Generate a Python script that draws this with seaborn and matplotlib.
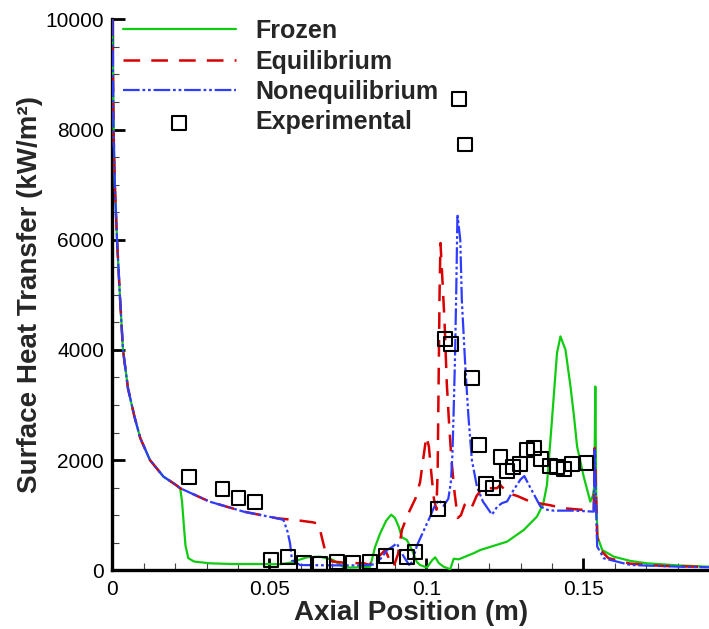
import matplotlib
matplotlib.use("Agg")
import matplotlib.pyplot as plt
from matplotlib.ticker import MultipleLocator, FixedLocator, FuncFormatter
import seaborn as sns
import pandas as pd

# ---- data -------------------------------------------------------------
frozen_x = [0.0000, 0.0002, 0.0004, 0.0008, 0.0015, 0.0024, 0.0034, 0.0050, 0.0070, 0.0089,
            0.0120, 0.0163, 0.0200, 0.0216, 0.0222, 0.0228, 0.0233, 0.0242, 0.0260, 0.0310,
            0.0386, 0.0470, 0.0534, 0.0566, 0.0600, 0.0620, 0.0662, 0.0704, 0.0736, 0.0760,
            0.0800, 0.0821, 0.0837, 0.0853, 0.0872, 0.0888, 0.0900, 0.0912, 0.0922, 0.0938,
            0.0954, 0.0970, 0.0980, 0.1002, 0.1018, 0.1028, 0.1040, 0.1055, 0.1076, 0.1087,
            0.1103, 0.1150, 0.1172, 0.1257, 0.1310, 0.1352, 0.1372, 0.1384, 0.1400, 0.1416,
            0.1427, 0.1443, 0.1459, 0.1470, 0.1480, 0.1501, 0.1515, 0.1522, 0.1530, 0.1535,
            0.1538, 0.1541, 0.1545, 0.1560, 0.1597, 0.1650, 0.1703, 0.1800, 0.1900]
frozen_y = [10000, 9000, 8000, 7000, 6000, 5000, 4000, 3300, 2800, 2400,
            2000, 1700, 1560, 1490, 1250, 800, 450, 220, 160, 127,
            114, 114, 110, 138, 200, 236, 247, 187, 55, 50,
            60, 65, 429, 672, 900, 1010, 950, 792, 600, 550,
            369, 150, 96, 50, 180, 236, 130, 65, 20, 210,
            200, 309, 369, 520, 732, 974, 1200, 1550, 2731, 3943,
            4245, 4003, 3336, 2800, 2246, 1701, 1400, 1246, 1350, 1519,
            3336, 1300, 610, 369, 247, 170, 127, 90, 65]

equil_x = [0.0000, 0.0002, 0.0004, 0.0008, 0.0015, 0.0024, 0.0034, 0.0050, 0.0070, 0.0089,
           0.0120, 0.0163, 0.0200, 0.0216, 0.0310, 0.0418, 0.0524, 0.0556, 0.0600, 0.0640,
           0.0657, 0.0668, 0.0680, 0.0700, 0.0750, 0.0800, 0.0817, 0.0840, 0.0869, 0.0885,
           0.0896, 0.0910, 0.0922, 0.0940, 0.0965, 0.0980, 0.0991, 0.1000, 0.1008, 0.1016,
           0.1024, 0.1032, 0.1036, 0.1039, 0.1042, 0.1045, 0.1050, 0.1058, 0.1065, 0.1072,
           0.1080, 0.1090, 0.1100, 0.1110, 0.1122, 0.1133, 0.1145, 0.1160, 0.1175, 0.1193,
           0.1225, 0.1235, 0.1260, 0.1289, 0.1331, 0.1395, 0.1437, 0.1501, 0.1533, 0.1536,
           0.1540, 0.1544, 0.1554, 0.1580, 0.1650, 0.1750, 0.1900]
equil_y = [10000, 9000, 8000, 7000, 6000, 5000, 4000, 3300, 2800, 2400,
           2000, 1700, 1560, 1490, 1246, 1065, 945, 927, 900, 870,
           840, 580, 300, 160, 130, 130, 100, 200, 370, 160,
           70, 300, 730, 1000, 1300, 1600, 2064, 2430, 2250, 1750,
           1300, 1100, 1800, 3400, 5000, 5940, 5400, 4500, 3400, 2700,
           2000, 1400, 950, 1000, 1190, 1250, 1150, 1350, 1460, 1490,
           1490, 1550, 1400, 1350, 1246, 1180, 1126, 1096, 1090, 2220,
           1500, 610, 369, 220, 120, 80, 60]

noneq_x = [0.0000, 0.0002, 0.0004, 0.0008, 0.0015, 0.0024, 0.0034, 0.0050, 0.0070, 0.0089,
           0.0120, 0.0163, 0.0200, 0.0216, 0.0310, 0.0418, 0.0524, 0.0545, 0.0558, 0.0566,
           0.0572, 0.0598, 0.0700, 0.0800, 0.0840, 0.0860, 0.0875, 0.0890, 0.0906, 0.0918,
           0.0928, 0.0945, 0.0955, 0.0970, 0.0990, 0.1010, 0.1025, 0.1040, 0.1055, 0.1070,
           0.1078, 0.1083, 0.1087, 0.1091, 0.1095, 0.1099, 0.1104, 0.1108, 0.1113, 0.1124,
           0.1134, 0.1145, 0.1161, 0.1180, 0.1209, 0.1225, 0.1241, 0.1257, 0.1278, 0.1300,
           0.1312, 0.1331, 0.1363, 0.1384, 0.1405, 0.1470, 0.1533, 0.1536, 0.1540, 0.1544,
           0.1565, 0.1650, 0.1809, 0.1900]
noneq_y = [10000, 9000, 8000, 7000, 6000, 5000, 4000, 3300, 2800, 2400,
           2000, 1700, 1560, 1490, 1246, 1065, 945, 914, 700, 490,
           187, 96, 90, 90, 110, 250, 370, 420, 490, 350,
           250, 100, 150, 450, 700, 950, 1150, 1280, 1170, 1300,
           1600, 2100, 2900, 3800, 5000, 6460, 6200, 6000, 4900, 3700,
           2790, 2000, 1520, 1250, 1010, 1150, 1220, 1250, 1460, 1650,
           1710, 1500, 1160, 1100, 1083, 1083, 1065, 2190, 1200, 430,
           218, 96, 65, 55]

exp_x = [0.0245, 0.0351, 0.0402, 0.0453, 0.0506, 0.0559, 0.0611, 0.0662, 0.0715,
         0.0767, 0.0821, 0.0872, 0.0938, 0.0964, 0.1038, 0.1058, 0.1079, 0.1103, 0.1124,
         0.1145, 0.1167, 0.1191, 0.1213, 0.1236, 0.1256, 0.1277, 0.1299, 0.1321, 0.1343,
         0.1365, 0.1395, 0.1416, 0.1437, 0.1464, 0.1510]
exp_y = [1700, 1477, 1319, 1246, 187, 236, 138, 124, 151,
         133, 156, 260, 247, 338, 1119, 4197, 4112, 8558, 7728,
         3489, 2277, 1568, 1490, 2053, 1795, 1877, 1931, 2186, 2217,
         2022, 1895, 1882, 1846, 1922, 1944]

x_ticks = [0, 0.05, 0.1, 0.15]
y_ticks = [0, 2000, 4000, 6000, 8000, 10000]

# ---- style ------------------------------------------------------------
sns.set_style("ticks")
plt.rcParams["font.family"] = ["Liberation Sans", "DejaVu Sans"]
plt.rcParams["lines.scale_dashes"] = False

GREEN = "#10CC10"
RED = "#D80000"
BLUE = "#2E3CFF"

fig = plt.figure(figsize=(7.09, 6.29), dpi=100)
ax = fig.add_axes([0.1584, 0.0933, 0.8416, 0.876])

frozen = pd.DataFrame({"x": frozen_x, "q": frozen_y})
equil = pd.DataFrame({"x": equil_x, "q": equil_y})
noneq = pd.DataFrame({"x": noneq_x, "q": noneq_y})
exp = pd.DataFrame({"x": exp_x, "q": exp_y})

sns.lineplot(data=frozen, x="x", y="q", ax=ax, color=GREEN, lw=1.6,
             estimator=None, sort=False, label="Frozen", zorder=3)
sns.lineplot(data=equil, x="x", y="q", ax=ax, color=RED, lw=1.8,
             estimator=None, sort=False, label="Equilibrium",
             dashes=False, linestyle=(0, (12, 8)), zorder=3)
sns.lineplot(data=noneq, x="x", y="q", ax=ax, color=BLUE, lw=1.6,
             estimator=None, sort=False, label="Nonequilibrium",
             dashes=False, linestyle=(0, (12, 2, 2, 2, 2, 2)), zorder=4)
sns.scatterplot(data=exp, x="x", y="q", ax=ax, marker="s", s=100,
                facecolor="none", edgecolor="black", linewidth=1.5,
                label="Experimental", zorder=5)

# ---- axes ---------------------------------------------------------------
ax.set_xlim(0, 0.19)
ax.set_ylim(0, 10000)
ax.xaxis.set_major_locator(FixedLocator(x_ticks))
ax.xaxis.set_minor_locator(MultipleLocator(0.01))
ax.yaxis.set_major_locator(FixedLocator(y_ticks))
ax.yaxis.set_minor_locator(MultipleLocator(500))
ax.xaxis.set_major_formatter(FuncFormatter(lambda v, p: f"{v:g}"))
ax.yaxis.set_major_formatter(FuncFormatter(lambda v, p: f"{v:g}"))

for side in ("top", "right"):
    ax.spines[side].set_visible(False)
for side in ("left", "bottom"):
    ax.spines[side].set_linewidth(2.4)
    ax.spines[side].set_color("black")

ax.tick_params(which="major", direction="in", length=9, width=2,
               labelsize=15, colors="black", pad=7)
ax.tick_params(which="minor", direction="in", length=5, width=0.8,
               colors="#444444")
ax.tick_params(axis="y", which="major", pad=6)

ax.set_xlabel("Axial Position (m)", fontsize=20, fontweight="bold", labelpad=1)
ax.set_ylabel("Surface Heat Transfer (kW/m\u00b2)", fontsize=20,
              fontweight="bold", labelpad=2)

leg = ax.legend(loc="upper left", bbox_to_anchor=(123 / 709, 1 - 19 / 629),
                bbox_transform=fig.transFigure, frameon=False,
                prop={"size": 18, "weight": "bold"}, handlelength=4.5,
                handletextpad=0.8, labelspacing=0.26, borderpad=0,
                borderaxespad=0, numpoints=1, scatterpoints=1)

fig.savefig("out.png", dpi=100)
